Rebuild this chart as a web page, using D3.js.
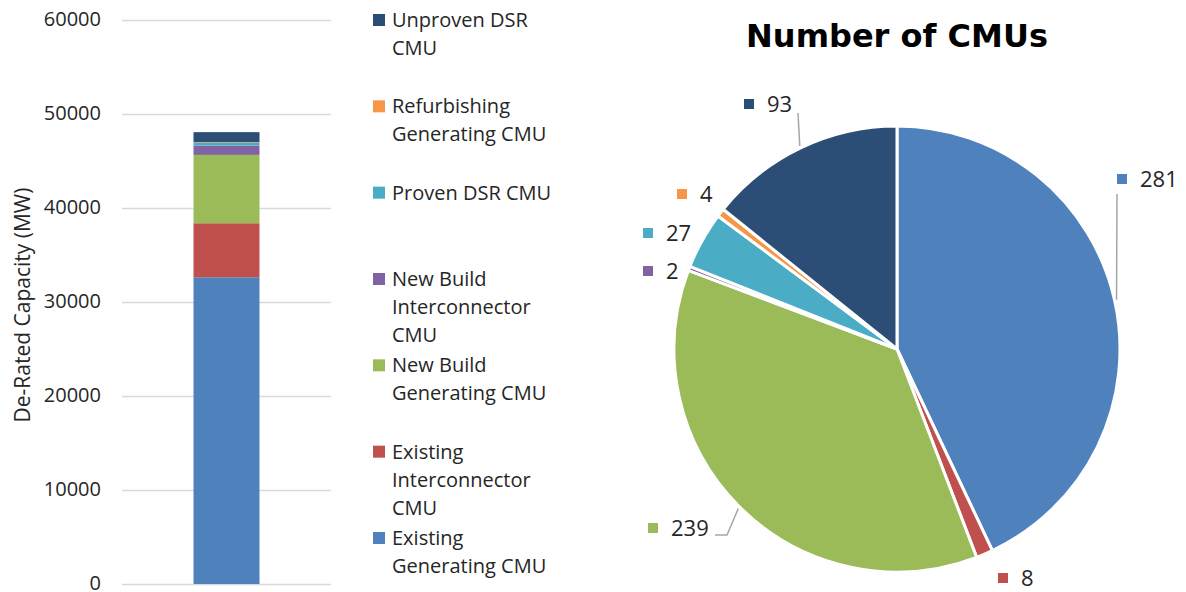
<!DOCTYPE html>
<html>
<head>
<meta charset="utf-8">
<script src="https://cdn.jsdelivr.net/npm/d3@7"></script>
<style>
  body { margin: 0; background: #fff; }
  text { font-family: "Open Sans", sans-serif; fill: #262626; }
</style>
</head>
<body>
<div id="chart"></div>
<script>
// categories, bottom of the stack first
var categories = ["Existing Generating CMU", "Existing Interconnector CMU", "New Build Generating CMU",
    "New Build Interconnector CMU", "Proven DSR CMU", "Refurbishing Generating CMU", "Unproven DSR CMU"];
// legend text, wrapped as in the picture
var legendLines = [["Existing", "Generating CMU"], ["Existing", "Interconnector", "CMU"], ["New Build", "Generating CMU"],
    ["New Build", "Interconnector", "CMU"], ["Proven DSR CMU"], ["Refurbishing", "Generating CMU"], ["Unproven DSR", "CMU"]];
var colors = ["#4F81BD", "#C0504D", "#9BBB59", "#8064A2", "#4BACC6", "#F79646", "#2C4D75"];
// de-rated capacity (MW)
var capacity = [32630, 5750, 7270, 990, 320, 50, 1060];
// number of CMUs per category
var cmuCount = [281, 8, 239, 2, 27, 4, 93];
var yTicks = [0, 10000, 20000, 30000, 40000, 50000, 60000];

var width = 1186, height = 592;
var svg = d3.select("#chart").append("svg")
    .attr("width", width)
    .attr("height", height);

// ---------- stacked bar ----------
var yScale = d3.scaleLinear().domain([0, 60000]).range([584, 20]);
var xScale = d3.scaleBand().domain(["Total"]).range([122, 331]).paddingInner(0.52).paddingOuter(0.52);

svg.append("g").selectAll("line")
    .data(yTicks)
    .enter().append("line")
    .attr("x1", 122).attr("x2", 331)
    .attr("y1", function (d) { return yScale(d) + 0.5; })
    .attr("y2", function (d) { return yScale(d) + 0.5; })
    .style("stroke", "#D9D9D9")
    .style("stroke-width", 1.5);

svg.append("g").selectAll("text")
    .data(yTicks)
    .enter().append("text")
    .attr("x", 101)
    .attr("y", function (d) { return yScale(d); })
    .attr("dy", "0.3em")
    .attr("text-anchor", "end")
    .style("font-size", "20px")
    .text(function (d) { return d; });

svg.append("text")
    .attr("transform", "translate(23,305) rotate(-90)")
    .attr("text-anchor", "middle")
    .attr("dy", "0.35em")
    .style("font-size", "21px")
    .text("De-Rated Capacity (MW)");

var stackRow = {};
categories.forEach(function (c, i) { stackRow[c] = capacity[i]; });
var stacked = d3.stack().keys(categories)([stackRow]);

svg.append("g").selectAll("rect")
    .data(stacked)
    .enter().append("rect")
    .attr("x", xScale("Total"))
    .attr("width", xScale.bandwidth())
    .attr("y", function (d) { return yScale(d[0][1]); })
    .attr("height", function (d) { return yScale(d[0][0]) - yScale(d[0][1]); })
    .style("fill", function (d, i) { return colors[i]; });

// legend, top entry is the last category
var legendY = d3.scaleLinear().domain([6, 0]).range([20, 538]);
var legend = svg.append("g").selectAll("g")
    .data(categories)
    .enter().append("g")
    .attr("transform", function (d, i) { return "translate(373," + legendY(i) + ")"; });

legend.append("rect")
    .attr("x", 0).attr("y", -6)
    .attr("width", 12).attr("height", 12)
    .style("fill", function (d, i) { return colors[i]; });

legend.each(function (d, i) {
    var g = d3.select(this);
    legendLines[i].forEach(function (line, k) {
        g.append("text")
            .attr("x", 19)
            .attr("y", k * 28)
            .attr("dy", "0.35em")
            .style("font-size", "20px")
            .text(line);
    });
});

// ---------- pie ----------
var cx = 897, cy = 349, radius = 223;
svg.append("text")
    .attr("x", cx)
    .attr("y", 47)
    .attr("text-anchor", "middle")
    .style("font-family", "'DejaVu Sans', Verdana, sans-serif")
    .style("font-weight", "bold")
    .style("font-size", "32px")
    .style("fill", "#000")
    .text("Number of CMUs");

var pie = d3.pie().sort(null).value(function (d) { return d; });
var arcs = pie(cmuCount);
var arc = d3.arc().innerRadius(0).outerRadius(radius);
var edgeArc = d3.arc().innerRadius(radius + 2).outerRadius(radius + 2);

var pieG = svg.append("g").attr("transform", "translate(" + cx + "," + cy + ")");
pieG.selectAll("path")
    .data(arcs)
    .enter().append("path")
    .attr("d", arc)
    .style("fill", function (d, i) { return colors[i]; })
    .style("stroke", "#fff")
    .style("stroke-width", 3)
    .style("stroke-linejoin", "round");

// label anchors (marker centre) relative to the pie centre, placed like Excel's best fit
var labelAt = [[225, -170], [106, 229], [-244, 179], [-249, -78], [-249, -116], [-215, -155], [-148, -245]];
// leader-line bends for labels that carry one (null = no line)
var leaderBend = [[220, -155], null, [-170, 186], null, null, null, [-99, -236]];

arcs.forEach(function (a, i) {
    var pos = labelAt[i];
    var g = pieG.append("g").attr("transform", "translate(" + pos[0] + "," + pos[1] + ")");
    g.append("rect")
        .attr("x", -5).attr("y", -5)
        .attr("width", 10).attr("height", 10)
        .style("fill", colors[i]);
    g.append("text")
        .attr("x", 18)
        .attr("dy", "0.35em")
        .style("font-size", "22px")
        .text(cmuCount[i]);

    if (leaderBend[i]) {
        var end = edgeArc.centroid(a);
        var pts = [end, leaderBend[i]];
        if (i === 2) pts.push([leaderBend[i][0] - 12, leaderBend[i][1]]);
        pieG.append("path")
            .attr("d", d3.line()(pts))
            .style("fill", "none")
            .style("stroke", "#A6A6A6")
            .style("stroke-width", 1.5);
    }
});
</script>
</body>
</html>
